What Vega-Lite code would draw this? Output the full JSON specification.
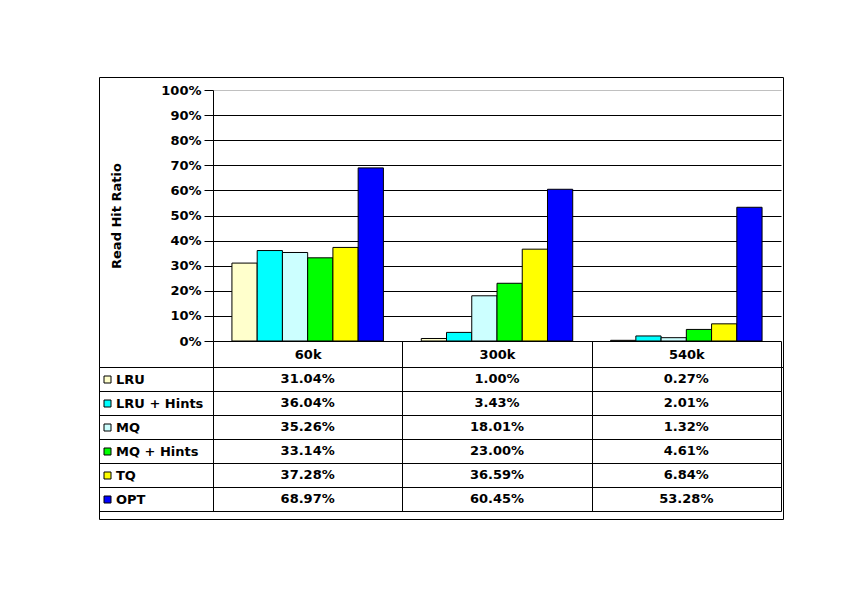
{
  "$schema": "https://vega.github.io/schema/vega-lite/v6.json",
  "padding": {"left": 98, "top": 76, "right": 0, "bottom": 0},
  "data": {
    "values": [
      {"size": "60k", "series": "LRU", "value": 0.3104},
      {"size": "60k", "series": "LRU + Hints", "value": 0.3604},
      {"size": "60k", "series": "MQ", "value": 0.3526},
      {"size": "60k", "series": "MQ + Hints", "value": 0.3314},
      {"size": "60k", "series": "TQ", "value": 0.3728},
      {"size": "60k", "series": "OPT", "value": 0.6897},
      {"size": "300k", "series": "LRU", "value": 0.0100},
      {"size": "300k", "series": "LRU + Hints", "value": 0.0343},
      {"size": "300k", "series": "MQ", "value": 0.1801},
      {"size": "300k", "series": "MQ + Hints", "value": 0.2300},
      {"size": "300k", "series": "TQ", "value": 0.3659},
      {"size": "300k", "series": "OPT", "value": 0.6045},
      {"size": "540k", "series": "LRU", "value": 0.0027},
      {"size": "540k", "series": "LRU + Hints", "value": 0.0201},
      {"size": "540k", "series": "MQ", "value": 0.0132},
      {"size": "540k", "series": "MQ + Hints", "value": 0.0461},
      {"size": "540k", "series": "TQ", "value": 0.0684},
      {"size": "540k", "series": "OPT", "value": 0.5328}
    ]
  },
  "spacing": 0,
  "bounds": "flush",
  "vconcat": [
    {
      "width": 684,
      "height": 290,
      "mark": {"type": "bar", "stroke": "black", "strokeWidth": 1},
      "encoding": {
        "x": {
          "field": "size", "type": "nominal", "sort": ["60k", "300k", "540k"],
          "scale": {"range": [114, 682], "paddingInner": 0, "paddingOuter": 0},
          "axis": {
            "orient": "bottom", "title": null, "labelAngle": 0, "domain": false, "grid": false,
            "tickBand": "extent", "tickSize": -26, "tickColor": "black",
            "labelBaseline": "middle", "labelPadding": 13
          }
        },
        "xOffset": {
          "field": "series", "type": "nominal",
          "sort": ["LRU", "LRU + Hints", "MQ", "MQ + Hints", "TQ", "OPT"],
          "scale": {"paddingInner": 0, "paddingOuter": 0.75}
        },
        "y": {
          "field": "value", "type": "quantitative",
          "scale": {"domain": [0, 1], "range": [264, 13], "nice": false},
          "axis": {
            "title": "Read Hit Ratio", "format": ".0%",
            "values": [0, 0.1, 0.2, 0.3, 0.4, 0.5, 0.6, 0.7, 0.8, 0.9, 1],
            "offset": -114, "tickSize": 9, "tickColor": "black", "labelPadding": 3,
            "domainColor": "black", "titlePadding": 37,
            "grid": true, "gridOpacity": 1,
            "gridColor": {"condition": {"test": "datum.value === 1", "value": "#c0c0c0"}, "value": "black"}
          }
        },
        "fill": {
          "field": "series", "type": "nominal",
          "scale": {
            "domain": ["LRU", "LRU + Hints", "MQ", "MQ + Hints", "TQ", "OPT"],
            "range": ["#ffffcc", "#00ffff", "#ccffff", "#00ff00", "#ffff00", "#0000ff"]
          },
          "legend": {
            "orient": "none", "legendX": 2, "legendY": 296, "title": null,
            "symbolType": "square", "symbolSize": 49, "symbolStrokeColor": "black",
            "symbolStrokeWidth": 1, "symbolOpacity": 1, "rowPadding": 10, "labelOffset": 2,
            "labelFont": "DejaVu Sans", "labelFontWeight": "bold", "labelFontSize": 13, "labelColor": "black"
          }
        }
      }
    },
    {
      "width": 684,
      "height": 152,
      "mark": {"type": "text", "font": "DejaVu Sans", "fontWeight": "bold", "fontSize": 13, "color": "black"},
      "encoding": {
        "x": {
          "field": "size", "type": "nominal", "sort": ["60k", "300k", "540k"],
          "scale": {"range": [114, 682], "paddingInner": 0, "paddingOuter": 0},
          "axis": {
            "orient": "top", "title": null, "labels": false, "domain": false, "ticks": false,
            "grid": true, "tickBand": "extent", "gridColor": "black", "gridOpacity": 1
          }
        },
        "y": {
          "field": "series", "type": "nominal",
          "sort": ["LRU", "LRU + Hints", "MQ", "MQ + Hints", "TQ", "OPT"],
          "scale": {"range": [0, 144], "paddingInner": 0, "paddingOuter": 0},
          "axis": {
            "title": null, "labels": false, "domain": false, "grid": false,
            "tickBand": "extent", "tickSize": -682, "tickColor": "black"
          }
        },
        "text": {"field": "value", "type": "quantitative", "format": ".2%"}
      }
    }
  ],
  "config": {
    "font": "DejaVu Sans",
    "view": {"stroke": "black", "strokeWidth": 1},
    "axis": {
      "labelFont": "DejaVu Sans", "labelFontWeight": "bold", "labelFontSize": 13, "labelColor": "black",
      "titleFont": "DejaVu Sans", "titleFontWeight": "bold", "titleFontSize": 13, "titleColor": "black"
    }
  }
}
